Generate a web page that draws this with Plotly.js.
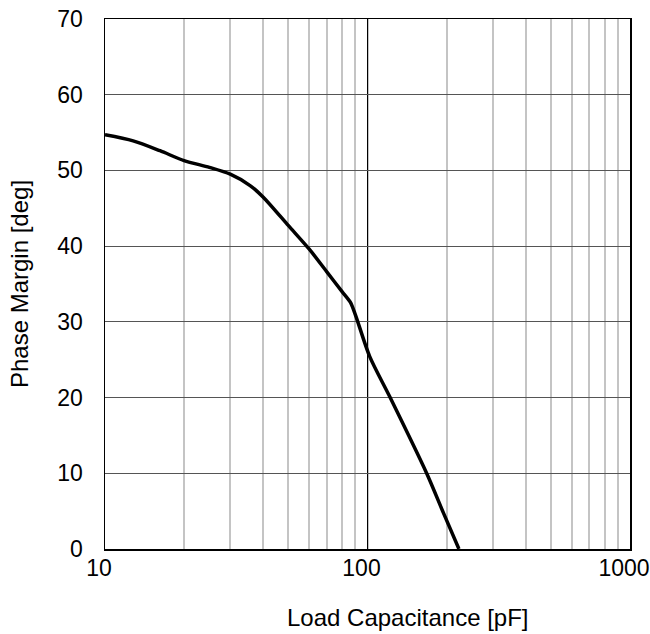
<!DOCTYPE html>
<html>
<head>
<meta charset="utf-8">
<script src="https://cdn.plot.ly/plotly-3.0.1.min.js"></script>
<style>html,body{margin:0;padding:0;background:#fff;}#chart{width:650px;height:634px;}</style>
</head>
<body>
<div id="chart"></div>
<script>
// Load capacitance (pF) and phase margin (deg)
const loadCapacitance = [10, 12.8, 16.2, 20, 25, 30, 35.7, 40, 50, 60, 70, 80, 86, 90, 102, 122, 168, 195, 223];
const phaseMargin     = [54.7, 53.9, 52.6, 51.3, 50.4, 49.5, 48.0, 46.5, 42.7, 39.6, 36.6, 34.0, 32.6, 30.9, 25.4, 20.0, 10.0, 4.7, 0.0];

const xTickVals = [10, 100, 1000];
const xTickText = ['10', '100', '1000'];
const yTickVals = [0, 10, 20, 30, 40, 50, 60, 70];

const xTitle = 'Load Capacitance [pF]';
const yTitle = 'Phase Margin [deg]';

const FONT = '"Liberation Sans", Arial, sans-serif';

const trace = {
  x: loadCapacitance,
  y: phaseMargin,
  type: 'scatter',
  mode: 'lines',
  line: {color: '#000000', width: 3.5, shape: 'spline', smoothing: 0.8},
  hoverinfo: 'x+y',
  showlegend: false
};

const layout = {
  width: 650,
  height: 634,
  margin: {l: 105, r: 20, t: 19, b: 85},
  paper_bgcolor: '#ffffff',
  plot_bgcolor: '#ffffff',
  font: {family: FONT, size: 23, color: '#000000'},
  xaxis: {
    type: 'log',
    range: [0.99999, 3.00001],
    tickmode: 'array',
    tickvals: xTickVals,
    ticktext: xTickText,
    ticks: '',
    ticklabelstandoff: -2,
    ticklabelshift: -6,
    ticklabeloverflow: 'allow',
    showgrid: true,
    gridcolor: '#000000',
    gridwidth: 1,
    minor: {dtick: 'D1', showgrid: true, gridcolor: '#c4c4c4', gridwidth: 2, ticks: ''},
    showline: true,
    linecolor: '#000000',
    linewidth: 1.5,
    mirror: true,
    zeroline: false,
    tickfont: {family: FONT, size: 23, color: '#000000'}
  },
  yaxis: {
    range: [0, 70],
    tickmode: 'array',
    tickvals: yTickVals,
    ticks: 'outside',
    ticklen: 16,
    tickcolor: 'rgba(0,0,0,0)',
    showgrid: true,
    gridcolor: '#555555',
    gridwidth: 1,
    showline: true,
    linecolor: '#000000',
    linewidth: 1.5,
    mirror: true,
    zeroline: false,
    tickfont: {family: FONT, size: 23, color: '#000000'},
    title: {text: yTitle, font: {family: FONT, size: 24, color: '#000000'}, standoff: 22}
  },
  annotations: [{
    text: xTitle,
    xref: 'paper', yref: 'paper',
    x: 0.577, y: -0.13,
    xanchor: 'center', yanchor: 'middle',
    showarrow: false,
    font: {family: FONT, size: 24, color: '#000000'}
  }]
};

Plotly.newPlot('chart', [trace], layout, {displayModeBar: false, staticPlot: true});
</script>
</body>
</html>
